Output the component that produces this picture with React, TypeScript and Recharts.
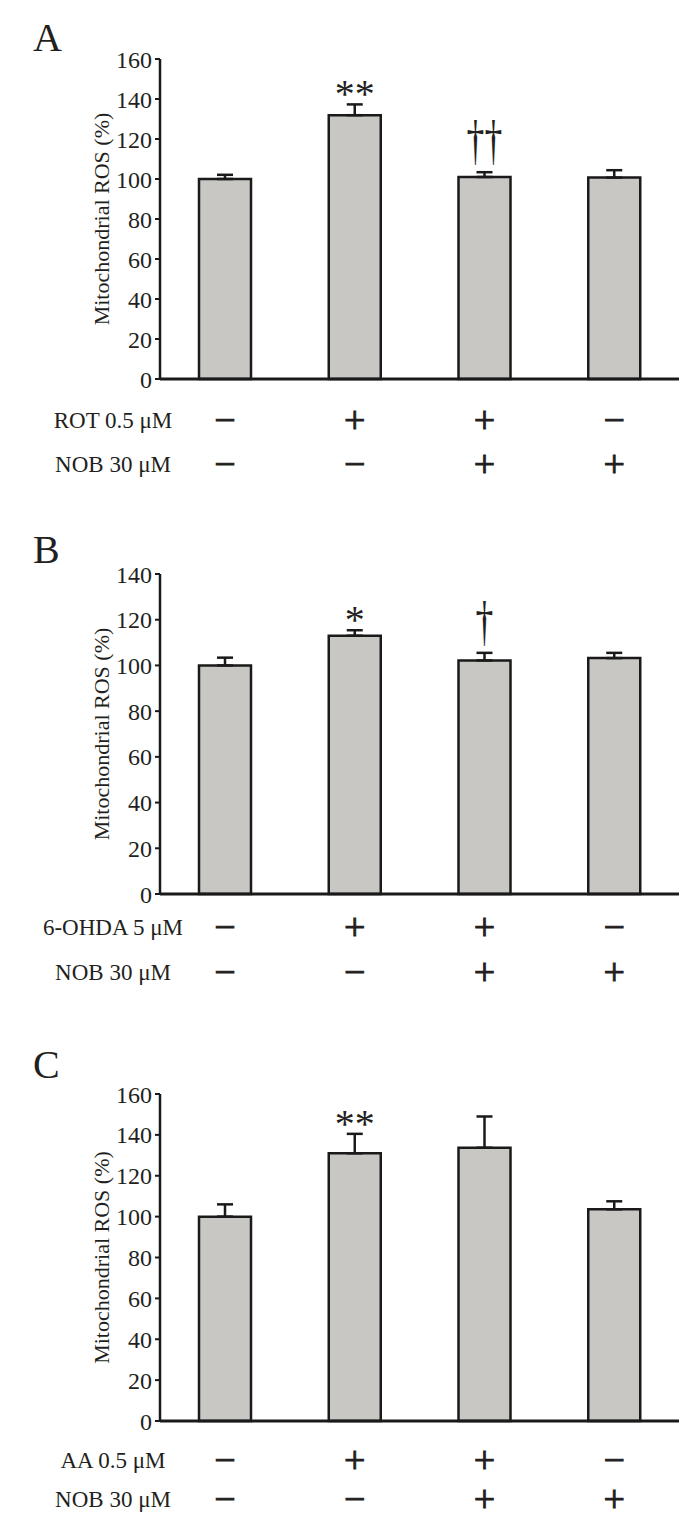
import React from "react";
import { BarChart, Bar, XAxis, YAxis, ErrorBar, ReferenceDot } from "recharts";

// groups along the x axis
const groups = ["g1", "g2", "g3", "g4"];

// panel A: rotenone
const meansA = [100, 131.9, 101, 100.7];
const errA = [2.1, 5.4, 2.4, 3.7];
const treatA = ["−", "+", "+", "−"];

// panel B: 6-OHDA
const meansB = [100, 113, 102.2, 103.2];
const errB = [3.4, 2.4, 3.3, 2.3];
const treatB = ["−", "+", "+", "−"];

// panel C: antimycin A
const meansC = [100, 131, 133.7, 103.6];
const errC = [6, 9.5, 15.3, 3.9];
const treatC = ["−", "+", "+", "−"];

// nobiletin row (same in all panels)
const treatNOB = ["−", "−", "+", "+"];

const rowLabelsA = ["ROT 0.5 μM", "NOB 30 μM"];
const rowLabelsB = ["6-OHDA 5 μM", "NOB 30 μM"];
const rowLabelsC = ["AA 0.5 μM", "NOB 30 μM"];

// significance marks: bar index + symbol
const marksA = [{ i: 1, mark: "**" }, { i: 2, mark: "††" }];
const marksB = [{ i: 1, mark: "*" }, { i: 2, mark: "†" }];
const marksC = [{ i: 1, mark: "**" }];

const ticks160 = [0, 20, 40, 60, 80, 100, 120, 140, 160];
const ticks140 = [0, 20, 40, 60, 80, 100, 120, 140];

const INK = "#231f20";
const LINE = "#1a1a1a";
const FILL = "#c8c7c3";
const FONT = "'Liberation Serif', 'Times New Roman', serif";

const markStyle: Record<string, { fontSize: number; offset: number; sx: number; sy: number }> = {
  "*": { fontSize: 40, offset: -3, sx: 1, sy: 1 },
  "**": { fontSize: 40, offset: -3, sx: 1, sy: 1 },
  "†": { fontSize: 54, offset: 13, sx: 0.66, sy: 1 },
  "††": { fontSize: 54, offset: 13, sx: 0.66, sy: 1 },
};

function MarkText(props: any) {
  const { viewBox, mark } = props;
  if (!viewBox) return null;
  const s = markStyle[mark];
  const cx = viewBox.x + (viewBox.width || 0) / 2;
  const cy = viewBox.y + (viewBox.height || 0) / 2;
  return (
    <text
      transform={`translate(${cx},${cy - s.offset}) scale(${s.sx},${s.sy})`}
      textAnchor="middle"
      fontSize={s.fontSize}
      fontFamily={FONT}
      fill={INK}
    >
      {mark}
    </text>
  );
}

type PanelProps = {
  letter: string;
  top: number;
  height: number;
  plotTop: number;
  plotBottom: number;
  yMax: number;
  ticks: number[];
  means: number[];
  errs: number[];
  rows: string[][];
  rowLabels: string[];
  rowY: number[];
  marks: { i: number; mark: string }[];
  letterY: number;
};

function Panel(p: PanelProps) {
  const data = groups.map((g, i) => ({ g, mean: p.means[i], err: [0, p.errs[i]] }));

  const Tick = (props: any) => {
    const { x, y, index } = props;
    return (
      <g>
        {p.rows.map((row, r) => (
          <text
            key={r}
            x={x}
            y={y + p.rowY[r]}
            textAnchor="middle"
            dominantBaseline="central"
            fontSize={38}
            fontFamily={FONT}
            fill={INK}
            stroke={INK}
            strokeWidth={0.9}
          >
            {row[index]}
          </text>
        ))}
        {index === 0 &&
          p.rowLabels.map((lab, r) => (
            <text
              key={"l" + r}
              x={113}
              y={y + p.rowY[r]}
              textAnchor="middle"
              dominantBaseline="central"
              fontSize={23}
              fontFamily={FONT}
              fill={INK}
            >
              {lab}
            </text>
          ))}
      </g>
    );
  };

  return (
    <div style={{ position: "absolute", left: 0, top: p.top, width: 690, height: p.height }}>
      <svg width={690} height={80} style={{ position: "absolute", left: 0, top: 0 }}>
        <text x={33} y={p.letterY} fontSize={40} fontFamily={FONT} fill={INK}>
          {p.letter}
        </text>
      </svg>
      <BarChart
        width={690}
        height={p.height}
        data={data}
        margin={{ top: p.plotTop, right: 11, left: 0, bottom: 0 }}
      >
        <XAxis
          dataKey="g"
          height={p.height - p.plotBottom}
          axisLine={{ stroke: LINE, strokeWidth: 3 }}
          tickLine={false}
          tickSize={0}
          tickMargin={0}
          tick={<Tick />}
          interval={0}
        />
        <YAxis
          width={160}
          domain={[0, p.yMax]}
          ticks={p.ticks}
          interval={0}
          axisLine={{ stroke: LINE, strokeWidth: 2.5 }}
          tickLine={{ stroke: LINE, strokeWidth: 2 }}
          tickSize={5}
          tickMargin={3}
          tick={{ fill: INK, fontSize: 24, fontFamily: FONT }}
          label={{
            value: "Mitochondrial ROS (%)",
            angle: -90,
            position: "center",
            dx: 21,
            fill: INK,
            fontSize: 22,
            fontFamily: FONT,
          }}
        />
        <Bar dataKey="mean" barSize={52} fill={FILL} stroke={LINE} strokeWidth={2.5} isAnimationActive={false}>
          <ErrorBar dataKey="err" width={8} stroke={LINE} strokeWidth={2.5} direction="y" />
        </Bar>
        {p.marks.map((m) => (
          <ReferenceDot
            key={m.i}
            x={groups[m.i]}
            y={p.means[m.i] + p.errs[m.i]}
            r={0}
            fill="none"
            stroke="none"
            label={(lp: any) => <MarkText {...lp} mark={m.mark} />}
          />
        ))}
      </BarChart>
    </div>
  );
}

export default function App() {
  return (
    <div style={{ position: "absolute", left: 0, top: 0, width: 690, height: 1526, background: "#fff" }}>
      <Panel
        letter="A"
        top={0}
        height={500}
        plotTop={59}
        plotBottom={379}
        yMax={160}
        ticks={ticks160}
        means={meansA}
        errs={errA}
        rows={[treatA, treatNOB]}
        rowLabels={rowLabelsA}
        rowY={[41, 85]}
        marks={marksA}
        letterY={51}
      />
      <Panel
        letter="B"
        top={500}
        height={510}
        plotTop={74}
        plotBottom={394}
        yMax={140}
        ticks={ticks140}
        means={meansB}
        errs={errB}
        rows={[treatB, treatNOB]}
        rowLabels={rowLabelsB}
        rowY={[33, 78]}
        marks={marksB}
        letterY={63}
      />
      <Panel
        letter="C"
        top={1010}
        height={516}
        plotTop={84}
        plotBottom={411}
        yMax={160}
        ticks={ticks160}
        means={meansC}
        errs={errC}
        rows={[treatC, treatNOB]}
        rowLabels={rowLabelsC}
        rowY={[39, 78]}
        marks={marksC}
        letterY={68}
      />
    </div>
  );
}
